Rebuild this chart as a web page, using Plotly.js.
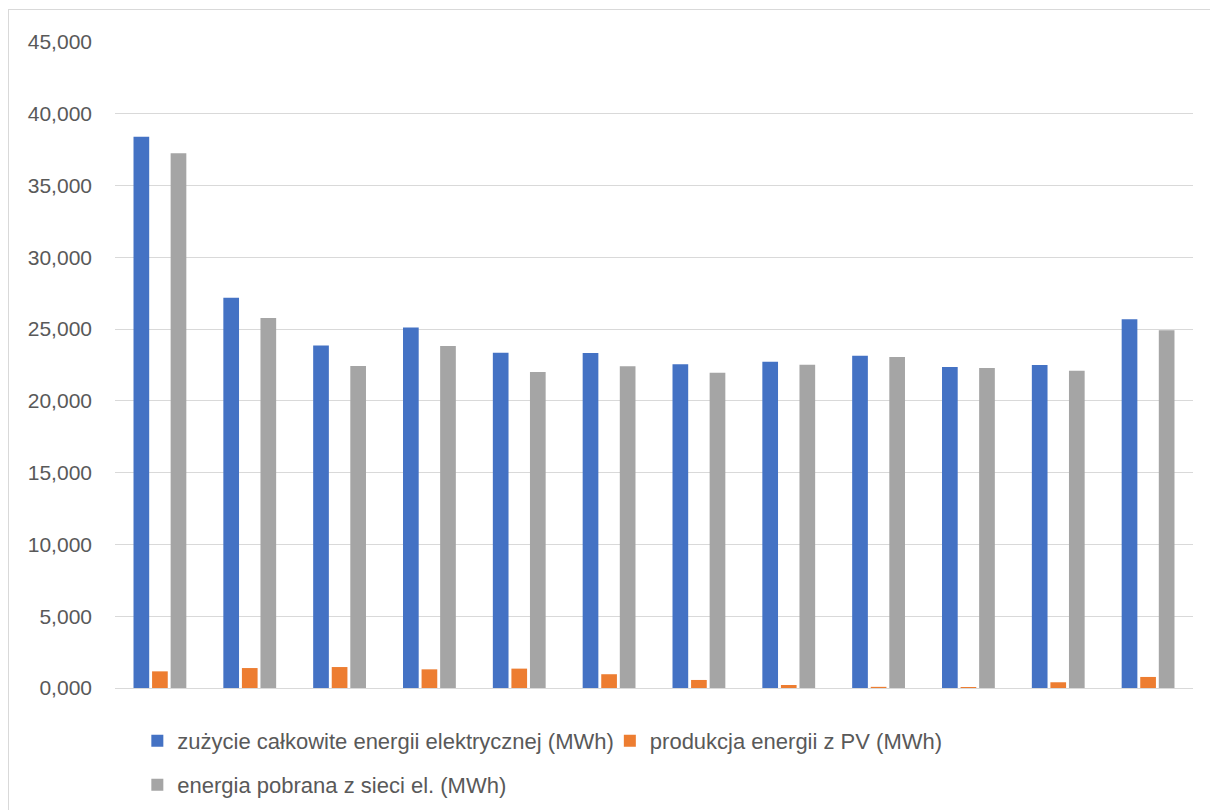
<!DOCTYPE html>
<html>
<head>
<meta charset="utf-8">
<script src="https://cdn.plot.ly/plotly-3.0.1.min.js"></script>
<style>
  html, body { margin: 0; padding: 0; background: #ffffff; overflow: hidden; }
  #wrap { position: relative; width: 1210px; height: 810px; }
  #chart { position: absolute; left: 0; top: 0; width: 1210px; height: 810px; }
  #frame { position: absolute; left: 8px; top: 9px; width: 1300px; height: 900px;
           border-left: 1px solid #d9d9d9; border-top: 1px solid #d9d9d9; pointer-events: none; }
</style>
</head>
<body>
<div id="wrap">
  <div id="chart"></div>
  <div id="frame"></div>
</div>
<script>
// months (category axis, labels not shown in the original)
const months = ['I', 'II', 'III', 'IV', 'V', 'VI', 'VII', 'VIII', 'IX', 'X', 'XI', 'XII'];

// series names
const nameTotal = 'zużycie całkowite energii elektrycznej (MWh)';
const namePV = 'produkcja energii z PV (MWh)';
const nameGrid = 'energia pobrana z sieci el. (MWh)';

// values in MWh
const totalUse = [38.40, 27.19, 23.85, 25.12, 23.36, 23.34, 22.55, 22.73, 23.15, 22.36, 22.50, 25.68];
const pvProduction = [1.16, 1.39, 1.46, 1.30, 1.35, 0.96, 0.56, 0.21, 0.08, 0.07, 0.40, 0.77];
const gridEnergy = [37.25, 25.77, 22.43, 23.82, 22.01, 22.41, 21.96, 22.52, 23.06, 22.29, 22.10, 24.92];

// y-axis ticks
const yTicks = [0, 5, 10, 15, 20, 25, 30, 35, 40, 45];

const FONT = 'Liberation Sans, Arial, sans-serif';
const TXT = '#595959';

const traces = [
  { type: 'bar', x: months, y: totalUse, name: nameTotal,
    marker: { color: '#4472C4', line: { width: 0 } }, legend: 'legend' },
  { type: 'bar', x: months, y: pvProduction, name: namePV,
    marker: { color: '#ED7D31', line: { width: 0 } }, legend: 'legend2' },
  { type: 'bar', x: months, y: gridEnergy, name: nameGrid,
    marker: { color: '#A5A5A5', line: { width: 0 } }, legend: 'legend3' }
];

const legendBase = {
  orientation: 'h', xanchor: 'left', yanchor: 'middle',
  xref: 'container', yref: 'container',
  font: { family: FONT, size: 22, color: TXT },
  bgcolor: 'rgba(0,0,0,0)', borderwidth: 0, itemclick: false, itemdoubleclick: false
};

const layout = {
  width: 1210, height: 810,
  margin: { l: 115, r: 17, t: 42, b: 122 },
  paper_bgcolor: '#ffffff', plot_bgcolor: '#ffffff',
  font: { family: FONT, size: 21, color: TXT },
  separators: ',.',
  barmode: 'group', bargap: 0.38, bargroupgap: 0.155,
  showlegend: true,
  xaxis: { type: 'category', showticklabels: false, showgrid: false, zeroline: false,
           showline: false, ticks: '' },
  yaxis: { range: [0, 45], tickvals: yTicks, tickformat: '.3f',
           showgrid: true, gridcolor: '#d9d9d9', gridwidth: 1,
           zeroline: true, zerolinecolor: '#d9d9d9', zerolinewidth: 1,
           showline: false, ticks: '', ticklabelstandoff: 22,
           tickfont: { family: FONT, size: 21, color: TXT } },
  legend: Object.assign({}, legendBase, { x: 0.1135, y: 0.0852 }),
  legend2: Object.assign({}, legendBase, { x: 0.504, y: 0.0852 }),
  legend3: Object.assign({}, legendBase, { x: 0.1135, y: 0.0309 })
};

Plotly.newPlot('chart', traces, layout, { displayModeBar: false, staticPlot: true });
</script>
</body>
</html>
